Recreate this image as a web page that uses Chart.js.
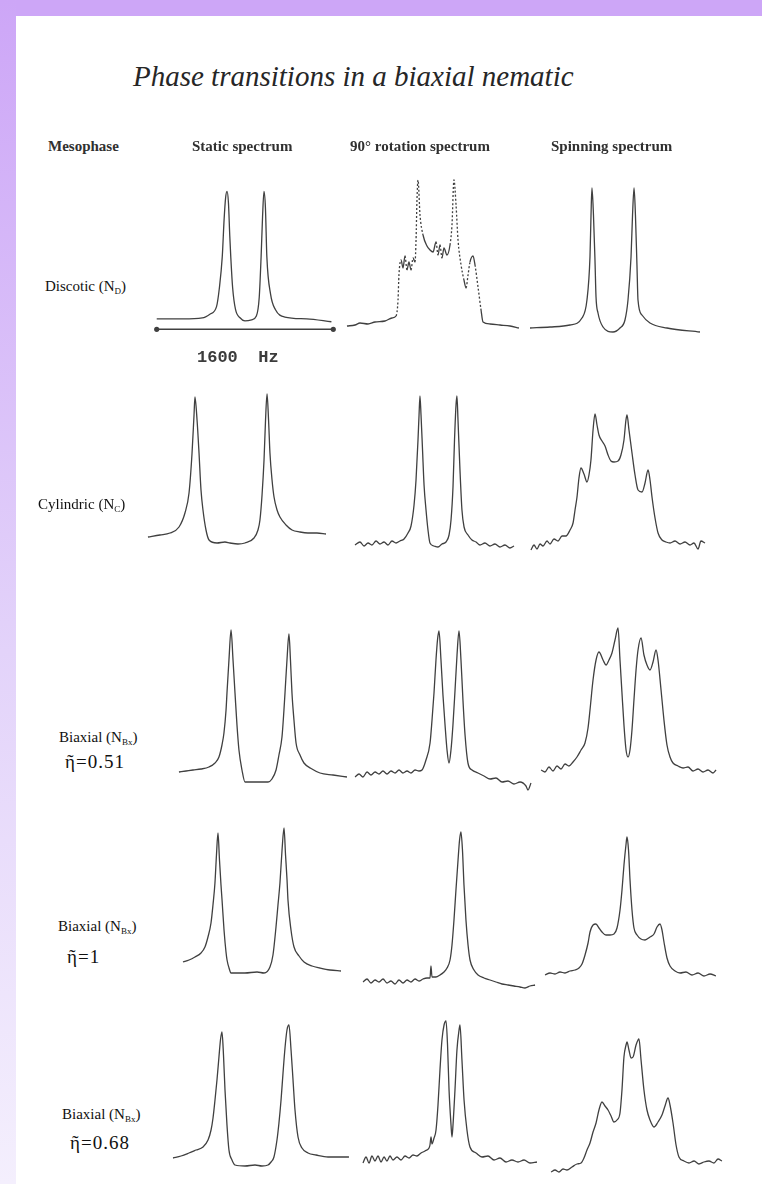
<!DOCTYPE html>
<html>
<head>
<meta charset="utf-8">
<script src="https://cdn.jsdelivr.net/npm/chart.js@4.4.0/dist/chart.umd.min.js"></script>
<style>
  html, body { margin: 0; padding: 0; background: #fff; }
  #page { position: relative; width: 762px; height: 1184px; overflow: hidden; background: #fff; }
  #topband { position: absolute; left: 0; top: 0; width: 762px; height: 16px; background: #cda6f7; }
  #leftband { position: absolute; left: 0; top: 0; width: 16px; height: 1184px;
              background: linear-gradient(#cda6f7, #e3d3fa 55%, #f4effd); }
  #page canvas { position: absolute; }
  .txt { position: absolute; white-space: nowrap; line-height: 1; }
  .title { font: italic 29px "Liberation Serif", serif; color: #262626; }
  .head { font: bold 15px "Liberation Serif", serif; color: #303030; }
  .row { font: 15px "Liberation Serif", serif; color: #111; }
  .row sub { font-size: 9px; vertical-align: -3px; }
  .eta { font: 19px "Liberation Serif", "DejaVu Serif", serif; color: #111; letter-spacing: 1px; }
  .hz { font: bold 17px "Liberation Mono", monospace; color: #3c3c3c; white-space: pre; }
</style>
</head>
<body>
<div id="page">
  <div id="topband"></div>
  <div id="leftband"></div>
</div>
<script>
// column and row captions
const columnTitles = ['Mesophase', 'Static spectrum', '90\u00b0 rotation spectrum', 'Spinning spectrum'];
const phaseNames = ['Discotic', 'Cylindric', 'Biaxial', 'Biaxial', 'Biaxial'];
const phaseSubs = ['D', 'C', 'Bx', 'Bx', 'Bx'];
const etaValues = [null, null, '0.51', '1', '0.68'];
const scaleBarHz = [-800, 800];

// spectra: [frequency offset (Hz), intensity (a.u.)]
const discoticStatic = [[-800,2],[-560,2],[-387,3],[-318,7],[-258,15],[-232,35],[-206,68],[-189,108],[-176,130],[-163,137],[-150,125],[-138,90],[-129,68],[-112,35],[-86,12],[-43,3],[0,0],[60,1],[103,5],[129,25],[146,68],[159,110],[172,137],[185,120],[198,68],[232,28],[275,12],[361,4],[559,2],[783,-1]];
const discoticRotation = [[-757,0],[-688,1],[-645,3],[-576,2],[-516,4],[-430,5],[-370,8],[-335,10],[-318,26],[-310,51],[-292,66],[-275,58],[-258,70],[-241,56],[-224,64],[-206,56],[-189,68],[-172,64],[-163,86],[-155,126],[-146,146],[-129,111],[-103,91],[-69,80],[-43,76],[-17,74],[9,84],[26,71],[43,81],[60,68],[77,78],[103,71],[129,81],[146,101],[163,146],[181,121],[198,86],[224,61],[249,46],[267,38],[284,51],[301,64],[327,70],[344,61],[370,39],[396,16],[413,4],[473,2],[559,1],[645,0],[722,-2]];
const discoticSpinning = [[-714,2],[-542,3],[-370,5],[-267,12],[-224,30],[-198,73],[-189,115],[-181,142],[-168,115],[-155,70],[-146,33],[-129,17],[-86,3],[0,-2],[60,2],[103,10],[129,30],[155,73],[168,115],[181,142],[193,115],[206,65],[215,30],[249,15],[318,7],[464,2],[748,-2]];

const cylindricStatic = [[-714,6],[-611,8],[-525,10],[-447,16],[-396,30],[-361,50],[-335,90],[-318,128],[-310,146],[-292,123],[-275,90],[-258,53],[-241,33],[-215,13],[-189,3],[-120,0],[-52,1],[-9,0],[60,-1],[120,0],[198,5],[232,13],[249,23],[267,48],[284,83],[297,123],[310,149],[323,123],[335,90],[353,63],[370,46],[396,33],[421,26],[473,18],[525,13],[593,11],[662,10],[739,10],[817,9]];
const cylindricRotation = [[-714,0],[-671,3],[-636,-1],[-602,2],[-568,0],[-533,4],[-499,1],[-464,3],[-430,0],[-396,4],[-361,2],[-327,4],[-292,6],[-258,12],[-232,19],[-206,40],[-189,65],[-172,105],[-163,130],[-155,149],[-146,130],[-133,95],[-120,60],[-103,35],[-86,15],[-69,2],[-34,-1],[0,-2],[34,1],[69,3],[95,10],[112,25],[129,58],[142,105],[155,140],[163,149],[172,125],[189,75],[206,35],[224,18],[258,10],[292,5],[327,3],[361,0],[404,2],[447,-1],[490,1],[533,-2],[576,0],[619,-3],[654,-1]];
const cylindricSpinning = [[-697,-5],[-671,0],[-645,-4],[-619,1],[-593,-1],[-559,4],[-533,1],[-499,6],[-464,4],[-430,9],[-396,9],[-361,15],[-335,22],[-318,35],[-301,48],[-284,67],[-267,77],[-241,71],[-215,63],[-198,70],[-181,85],[-163,115],[-146,131],[-129,120],[-112,110],[-86,104],[-60,99],[-34,90],[-9,84],[17,83],[52,84],[77,90],[103,105],[120,125],[129,130],[146,115],[172,92],[198,70],[224,55],[258,53],[284,62],[310,75],[327,65],[344,48],[370,27],[396,12],[430,5],[464,3],[499,2],[542,4],[585,1],[628,3],[671,0],[705,2],[740,-4],[765,4],[800,2]];

const biaxial051Static = [[-697,10],[-636,11],[-576,12],[-507,13],[-439,15],[-387,19],[-353,25],[-327,37],[-310,49],[-292,72],[-284,89],[-267,122],[-249,152],[-232,122],[-215,89],[-198,57],[-181,32],[-155,12],[-129,0],[-43,0],[69,0],[103,3],[138,12],[163,27],[189,45],[206,72],[215,89],[232,122],[249,148],[262,122],[275,89],[292,62],[310,39],[344,27],[378,19],[447,13],[516,9],[628,7],[748,5]];
const biaxial051Rotation = [[-808,5],[-774,8],[-740,5],[-705,10],[-671,7],[-636,10],[-602,8],[-568,11],[-533,8],[-499,11],[-464,9],[-430,12],[-396,9],[-361,11],[-327,9],[-292,12],[-258,11],[-232,12],[-198,22],[-163,39],[-146,62],[-129,89],[-112,122],[-99,142],[-86,151],[-69,122],[-52,87],[-34,57],[-17,32],[0,19],[17,32],[34,57],[52,92],[69,127],[86,151],[103,122],[120,82],[138,47],[163,19],[198,12],[249,9],[301,6],[353,3],[404,4],[456,0],[507,1],[559,-2],[611,0],[662,-4],[679,-8],[705,-1]];
const biaxial051Spinning = [[-679,12],[-645,10],[-611,15],[-576,11],[-542,16],[-507,13],[-473,18],[-439,16],[-404,20],[-370,25],[-335,32],[-301,39],[-275,54],[-258,72],[-232,102],[-206,122],[-181,130],[-146,122],[-120,117],[-95,122],[-69,129],[-43,142],[-17,154],[0,122],[17,89],[34,57],[52,32],[69,25],[86,32],[103,52],[120,82],[138,112],[155,132],[181,144],[206,127],[232,117],[258,112],[284,120],[310,132],[327,122],[353,92],[378,62],[404,37],[430,25],[456,19],[499,16],[542,14],[585,15],[628,11],[671,13],[714,10],[757,12],[800,9],[826,12]];

const biaxial1Static = [[-585,11],[-533,13],[-482,16],[-430,20],[-396,26],[-370,36],[-344,50],[-327,68],[-310,90],[-297,118],[-284,140],[-271,113],[-258,88],[-249,73],[-232,43],[-215,21],[-206,13],[-189,5],[-172,0],[-52,0],[52,1],[112,0],[163,6],[189,18],[215,46],[232,68],[249,90],[267,123],[284,145],[297,118],[310,93],[318,73],[344,43],[370,26],[413,17],[456,11],[525,7],[593,5],[679,3],[774,2]];
const biaxial1Rotation = [[-765,0],[-731,3],[-697,-1],[-662,2],[-628,0],[-593,3],[-559,-1],[-525,1],[-490,-2],[-456,2],[-421,-1],[-387,2],[-353,0],[-318,3],[-284,1],[-249,3],[-215,4],[-189,4],[-181,16],[-172,5],[-138,5],[-103,7],[-69,10],[-43,14],[-17,22],[0,37],[17,62],[34,92],[52,122],[65,142],[77,150],[90,132],[103,97],[120,62],[138,37],[155,22],[189,12],[224,7],[275,4],[327,2],[378,0],[430,-2],[482,-3],[533,-4],[585,-5],[628,-6],[671,-4],[714,-3]];
const biaxial1Spinning = [[-705,0],[-662,2],[-619,1],[-576,3],[-533,2],[-490,4],[-447,5],[-413,7],[-387,11],[-361,20],[-335,32],[-318,43],[-292,50],[-267,51],[-241,47],[-215,43],[-181,40],[-146,40],[-112,41],[-86,47],[-60,65],[-43,85],[-26,110],[-9,130],[0,138],[13,125],[26,95],[43,65],[60,47],[86,40],[120,36],[155,35],[198,38],[232,41],[258,48],[284,51],[301,45],[318,33],[344,17],[370,9],[413,4],[456,2],[507,3],[559,0],[611,2],[662,-1],[714,1],[765,-1]];

const biaxial068Static = [[-705,7],[-636,9],[-568,12],[-507,15],[-447,18],[-404,25],[-378,35],[-361,47],[-344,65],[-327,85],[-310,108],[-297,125],[-284,133],[-271,110],[-258,75],[-241,40],[-224,15],[-198,5],[-172,0],[-86,-1],[0,0],[60,-1],[112,0],[138,3],[163,8],[189,25],[206,42],[224,65],[241,92],[258,117],[275,135],[292,140],[310,115],[327,85],[344,55],[370,28],[404,17],[456,12],[525,10],[628,8],[731,8],[808,8]];
const biaxial068Rotation = [[-774,-1],[-748,5],[-722,-1],[-697,6],[-671,1],[-645,6],[-619,0],[-593,5],[-568,1],[-542,6],[-516,2],[-482,5],[-447,2],[-413,6],[-378,4],[-344,7],[-310,6],[-275,9],[-241,11],[-206,14],[-198,17],[-189,25],[-181,18],[-163,24],[-146,32],[-129,57],[-112,92],[-95,122],[-77,137],[-60,141],[-47,117],[-34,72],[-17,37],[-9,25],[0,37],[17,72],[34,112],[52,132],[60,137],[77,102],[95,62],[120,32],[146,15],[198,9],[249,5],[301,6],[353,2],[404,4],[456,0],[507,2],[559,0],[611,2],[662,-1],[722,0]];
const biaxial068Spinning = [[-679,-7],[-645,-5],[-611,-7],[-576,-4],[-542,-5],[-499,-2],[-456,1],[-421,2],[-396,7],[-370,15],[-344,22],[-318,33],[-292,42],[-267,55],[-241,63],[-215,59],[-189,55],[-163,49],[-138,43],[-112,45],[-86,52],[-69,75],[-52,108],[-34,120],[-26,123],[-9,115],[9,107],[26,108],[52,120],[69,125],[77,126],[95,105],[120,75],[146,55],[172,45],[206,38],[241,43],[275,50],[301,59],[327,67],[344,60],[370,42],[396,20],[421,8],[464,4],[507,2],[551,4],[593,1],[636,3],[679,4],[722,2],[757,6],[791,4]];

// every panel shares the same frequency scale (1600 Hz over 186 px)
const HZ_PER_PX = 8.6;
const HALF_W = 110;
const TOP_ROOM = 175;
const FOOT_ROOM = 25;
const ink = '#404040';

// cx = frequency origin, base = zero intensity (page pixels)
const panels = [
  { trace: discoticStatic, cx: 245, base: 325, bar: true },
  { trace: discoticRotation, cx: 435, base: 326, broken: true },
  { trace: discoticSpinning, cx: 613, base: 330 },
  { trace: cylindricStatic, cx: 231, base: 543 },
  { trace: cylindricRotation, cx: 438, base: 545 },
  { trace: cylindricSpinning, cx: 612, base: 545 },
  { trace: biaxial051Static, cx: 260, base: 782 },
  { trace: biaxial051Rotation, cx: 449, base: 782 },
  { trace: biaxial051Spinning, cx: 620, base: 782 },
  { trace: biaxial1Static, cx: 251, base: 973 },
  { trace: biaxial1Rotation, cx: 452, base: 982 },
  { trace: biaxial1Spinning, cx: 627, base: 975 },
  { trace: biaxial068Static, cx: 255, base: 1165 },
  { trace: biaxial068Rotation, cx: 453, base: 1162 },
  { trace: biaxial068Spinning, cx: 630, base: 1165 }
];

const page = document.getElementById('page');

function addText(cls, html, left, midY) {
  const d = document.createElement('div');
  d.className = 'txt ' + cls;
  d.innerHTML = html;
  page.appendChild(d);
  d.style.left = left + 'px';
  d.style.top = (midY - d.offsetHeight / 2) + 'px';
  return d;
}

// dotted look of the printed trace on steep flanks
const steep = ctx => {
  const dx = Math.abs(ctx.p1.x - ctx.p0.x), dy = Math.abs(ctx.p1.y - ctx.p0.y);
  return dy > 12 && dy > 3 * dx ? [2, 2] : undefined;
};

function makePanel(p) {
  const cv = document.createElement('canvas');
  cv.width = HALF_W * 2;
  cv.height = TOP_ROOM + FOOT_ROOM;
  cv.style.left = (p.cx - HALF_W) + 'px';
  cv.style.top = (p.base - TOP_ROOM) + 'px';
  page.appendChild(cv);

  const datasets = [{
    data: p.trace.map(([x, y]) => ({ x, y })),
    borderColor: ink,
    borderWidth: 1.3,
    pointRadius: 0,
    cubicInterpolationMode: 'monotone',
    clip: false,
    segment: p.broken ? { borderDash: steep } : undefined
  }];
  if (p.bar) {
    datasets.push({
      data: scaleBarHz.map(x => ({ x, y: -9 })),
      borderColor: ink,
      backgroundColor: ink,
      borderWidth: 1.6,
      pointRadius: 1.8,
      clip: false
    });
  }

  new Chart(cv, {
    type: 'line',
    data: { datasets },
    options: {
      responsive: false,
      animation: false,
      events: [],
      layout: { padding: 0 },
      plugins: { legend: { display: false }, tooltip: { enabled: false } },
      scales: {
        x: { type: 'linear', display: false, min: -HALF_W * HZ_PER_PX, max: HALF_W * HZ_PER_PX },
        y: { display: false, min: -FOOT_ROOM, max: TOP_ROOM }
      }
    }
  });
}

panels.forEach(makePanel);

addText('title', 'Phase transitions in a biaxial nematic', 133, 76);

const headLeft = [48, 192, 350, 551];
columnTitles.forEach((t, i) => addText('head', t, headLeft[i], 146));

const rowLeft = [45, 38, 59, 58, 62];
const rowY = [287, 505, 738, 927, 1115];
const etaLeft = [0, 0, 65, 67, 70];
const etaY = [0, 0, 762, 957, 1143];
phaseNames.forEach((name, i) => {
  addText('row', name + ' (N<sub>' + phaseSubs[i] + '</sub>)', rowLeft[i], rowY[i]);
  if (etaValues[i]) addText('eta', '\u1fc6=' + etaValues[i], etaLeft[i], etaY[i]);
});

addText('hz', '1600  Hz', 197, 357);
</script>
</body>
</html>
